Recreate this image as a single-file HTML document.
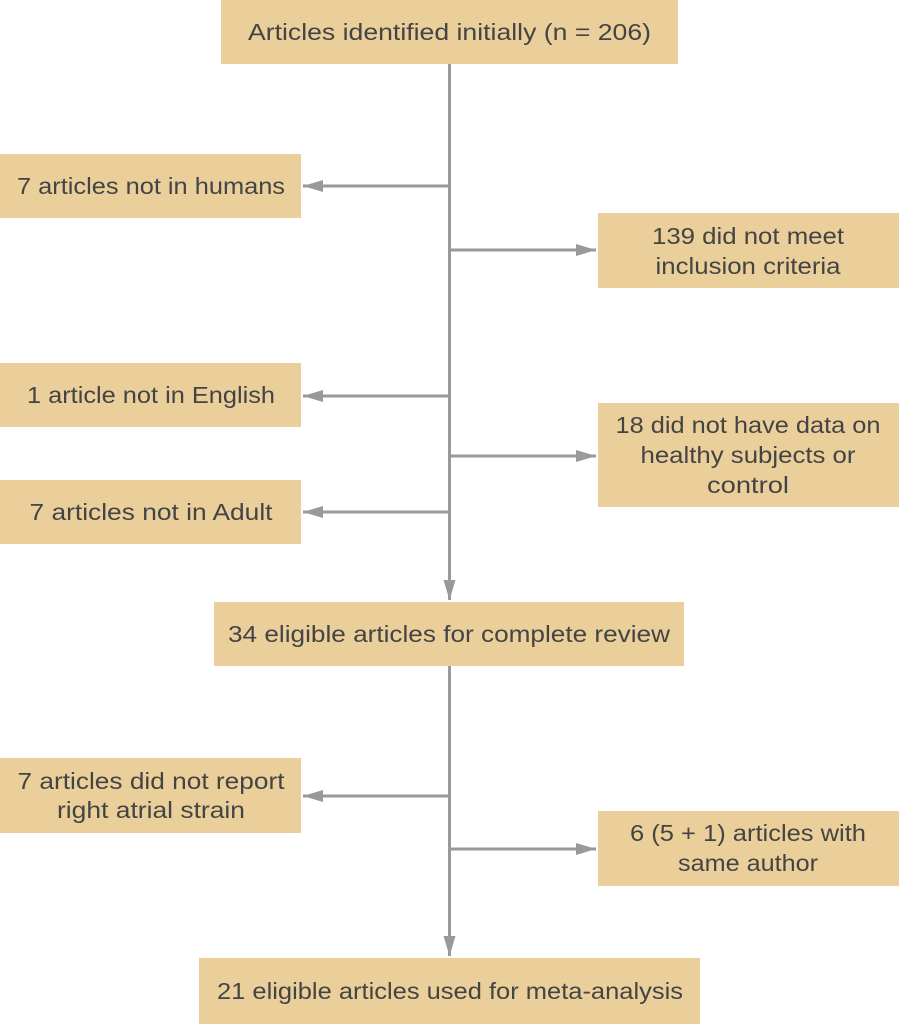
<!DOCTYPE html>
<html><head><meta charset="utf-8"><style>
html,body{margin:0;padding:0;background:#fff;}
svg{display:block}
text{font-family:"Liberation Sans",sans-serif;font-size:23px;fill:#444;text-anchor:middle}
</style></head><body>
<svg width="899" height="1024" viewBox="0 0 899 1024" xmlns="http://www.w3.org/2000/svg">
<defs>
<marker id="a" markerWidth="20" markerHeight="12" refX="20" refY="6" orient="auto" markerUnits="userSpaceOnUse">
<path d="M0,0 L20,6 L0,12 Z" fill="#999"/></marker>
</defs>
<g fill="#EBCF9B">
<rect x="221" y="0" width="457" height="64"/>
<rect x="0" y="154" width="301" height="64"/>
<rect x="598" y="213" width="301" height="75"/>
<rect x="0" y="363" width="301" height="64"/>
<rect x="598" y="403" width="301" height="104"/>
<rect x="0" y="480" width="301" height="64"/>
<rect x="214" y="602" width="470" height="64"/>
<rect x="0" y="758" width="301" height="75"/>
<rect x="598" y="811" width="301" height="75"/>
<rect x="199" y="958" width="501" height="66"/>
</g>
<g stroke="#999" stroke-width="3" fill="none">
<line x1="449.5" y1="64" x2="449.5" y2="600" marker-end="url(#a)"/>
<line x1="449.5" y1="666" x2="449.5" y2="956" marker-end="url(#a)"/>
<line x1="449.5" y1="186" x2="303" y2="186" marker-end="url(#a)"/>
<line x1="449.5" y1="396" x2="303" y2="396" marker-end="url(#a)"/>
<line x1="449.5" y1="512" x2="303" y2="512" marker-end="url(#a)"/>
<line x1="449.5" y1="796" x2="303" y2="796" marker-end="url(#a)"/>
<line x1="449.5" y1="250" x2="596" y2="250" marker-end="url(#a)"/>
<line x1="449.5" y1="456" x2="596" y2="456" marker-end="url(#a)"/>
<line x1="449.5" y1="849" x2="596" y2="849" marker-end="url(#a)"/>
</g>
<g lengthAdjust="spacingAndGlyphs">
<text x="449.5" y="40" textLength="403" lengthAdjust="spacingAndGlyphs">Articles identified initially (n = 206)</text>
<text x="151" y="194" textLength="268" lengthAdjust="spacingAndGlyphs">7 articles not in humans</text>
<text x="748" y="244" textLength="192" lengthAdjust="spacingAndGlyphs">139 did not meet</text>
<text x="748" y="274" textLength="185" lengthAdjust="spacingAndGlyphs">inclusion criteria</text>
<text x="151" y="403" textLength="248" lengthAdjust="spacingAndGlyphs">1 article not in English</text>
<text x="748" y="433" textLength="265" lengthAdjust="spacingAndGlyphs">18 did not have data on</text>
<text x="748" y="463" textLength="215" lengthAdjust="spacingAndGlyphs">healthy subjects or</text>
<text x="748" y="493" textLength="82" lengthAdjust="spacingAndGlyphs">control</text>
<text x="151" y="520" textLength="243" lengthAdjust="spacingAndGlyphs">7 articles not in Adult</text>
<text x="449" y="642" textLength="442" lengthAdjust="spacingAndGlyphs">34 eligible articles for complete review</text>
<text x="151" y="789" textLength="267" lengthAdjust="spacingAndGlyphs">7 articles did not report</text>
<text x="151" y="818" textLength="188" lengthAdjust="spacingAndGlyphs">right atrial strain</text>
<text x="748" y="841" textLength="236" lengthAdjust="spacingAndGlyphs">6 (5 + 1) articles with</text>
<text x="748" y="871" textLength="140" lengthAdjust="spacingAndGlyphs">same author</text>
<text x="450" y="999" textLength="466" lengthAdjust="spacingAndGlyphs">21 eligible articles used for meta-analysis</text>
</g>
</svg>
</body></html>
